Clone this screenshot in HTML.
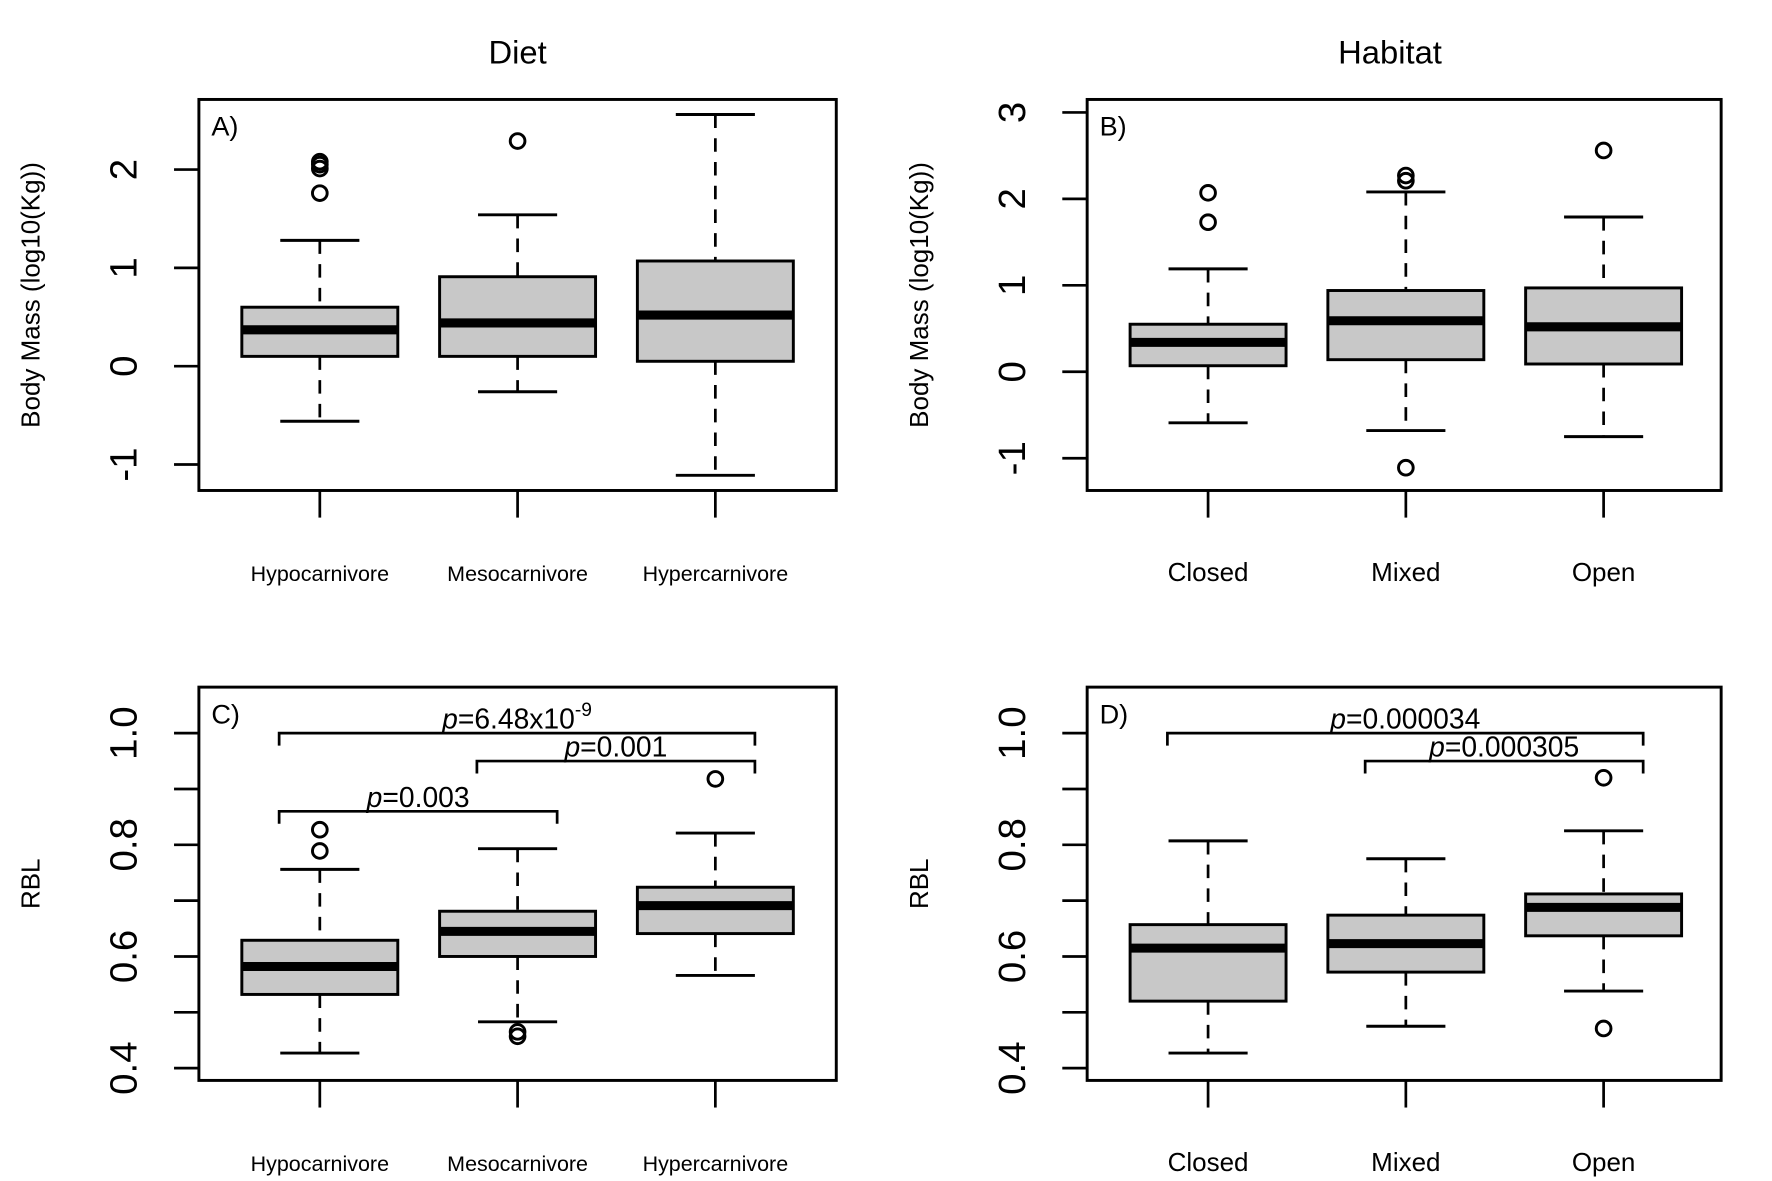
<!DOCTYPE html>
<html><head><meta charset="utf-8"><style>
html,body{margin:0;padding:0;background:#fff;}
svg{display:block;font-family:"Liberation Sans",Arial,sans-serif;}
</style></head><body>
<svg id="chart" width="1772" height="1181" viewBox="0 0 1568 1045" preserveAspectRatio="none" xmlns="http://www.w3.org/2000/svg">
<rect x="0" y="0" width="1568" height="1045" fill="#fff"/>
</svg>
<script>
const dietCats = ["Hypocarnivore","Mesocarnivore","Hypercarnivore"];
const habitatCats = ["Closed","Mixed","Open"];
const massTicks = [-1,0,1,2];
const massTicksB = [-1,0,1,2,3];
const rblTicks = [0.4,0.5,0.6,0.7,0.8,0.9,1.0];
const rblTickLabels = ["0.4","","0.6","","0.8","","1.0"];
// Panel A: body mass by diet
const aLower = [-0.56,-0.26,-1.11];
const aQ1 = [0.10,0.10,0.05];
const aMed = [0.37,0.44,0.52];
const aQ3 = [0.60,0.91,1.07];
const aUpper = [1.28,1.54,2.56];
const aOut = [[1.76,2.01,2.05,2.08],[2.29],[]];
// Panel B: body mass by habitat
const bLower = [-0.59,-0.68,-0.75];
const bQ1 = [0.07,0.14,0.09];
const bMed = [0.34,0.59,0.52];
const bQ3 = [0.55,0.94,0.97];
const bUpper = [1.19,2.08,1.79];
const bOut = [[1.73,2.07],[-1.11,2.21,2.27],[2.56]];
// Panel C: RBL by diet
const cLower = [0.427,0.483,0.566];
const cQ1 = [0.532,0.600,0.641];
const cMed = [0.582,0.645,0.691];
const cQ3 = [0.629,0.681,0.724];
const cUpper = [0.756,0.793,0.821];
const cOut = [[0.789,0.827],[0.457,0.465],[0.918]];
// Panel D: RBL by habitat
const dLower = [0.427,0.475,0.538];
const dQ1 = [0.520,0.572,0.637];
const dMed = [0.615,0.623,0.688];
const dQ3 = [0.657,0.674,0.712];
const dUpper = [0.807,0.775,0.825];
const dOut = [[],[],[0.471,0.920]];
const cSigFrom = [0,1,0];
const cSigTo = [2,2,1];
const cSigVal = [1.0,0.95,0.86];
const cSigText = ["6.48x10","0.001","0.003"];
const cSigSup = ["-9","",""];
const dSigFrom = [0,1];
const dSigTo = [2,2];
const dSigVal = [1.0,0.95];
const dSigText = ["0.000034","0.000305"];
const dSigSup = ["",""];

const NS="http://www.w3.org/2000/svg";
const svg=document.getElementById('chart');
function mk(tag,attrs,parent){const e=document.createElementNS(NS,tag);for(const k in attrs)e.setAttribute(k,attrs[k]);(parent||svg).appendChild(e);return e;}

function panel(p){
  const g=mk('g',{});
  
  
  const yS=v=>p.y1-(v-p.ymin)/(p.ymax-p.ymin)*(p.y1-p.y0);
  const xS=i=>p.x0+107+i*175;
  const fr=mk('rect',{x:p.x0,y:p.y0,width:p.x1-p.x0,height:p.y1-p.y0,fill:'none',stroke:'#000','stroke-width':2.6},g);
  
  
  p.ticks.forEach((t,i)=>{
    const y=yS(t);
    const tk=mk('line',{x1:p.x0-22,x2:p.x0,y1:y,y2:y,stroke:'#000','stroke-width':2.4},g);
    
    
    const lab=p.tickLabels?p.tickLabels[i]:String(t);
    if(lab){
      const tx=mk('text',{x:0,y:0,'font-size':34,'text-anchor':'middle',transform:`translate(${p.x0-55},${y}) rotate(-90)`},g);
      tx.textContent=lab;
      
      
    }
  });
  const yt=mk('text',{x:0,y:0,'font-size':23,'text-anchor':'middle',transform:`translate(${p.x0-141},${(p.y0+p.y1)/2}) rotate(-90)`},g);
  yt.textContent=p.ytitle;
  
  
  const pl=mk('text',{x:p.x0+11,y:p.y0+32,'font-size':24},g);
  pl.textContent=p.letter;
  
  
  p.cats.forEach((c,i)=>{
    const x=xS(i);
    const bg=mk('g',{},g);
    
    
    mk('line',{x1:x,x2:x,y1:yS(p.up[i]),y2:yS(p.q3[i]),stroke:'#000','stroke-width':2.4,'stroke-dasharray':'12,9'},bg);
    mk('line',{x1:x,x2:x,y1:yS(p.q1[i]),y2:yS(p.lo[i]),stroke:'#000','stroke-width':2.4,'stroke-dasharray':'12,9'},bg);
    mk('line',{x1:x-35,x2:x+35,y1:yS(p.up[i]),y2:yS(p.up[i]),stroke:'#000','stroke-width':2.6},bg);
    mk('line',{x1:x-35,x2:x+35,y1:yS(p.lo[i]),y2:yS(p.lo[i]),stroke:'#000','stroke-width':2.6},bg);
    mk('rect',{x:x-69,y:yS(p.q3[i]),width:138,height:yS(p.q1[i])-yS(p.q3[i]),fill:'#c8c8c8',stroke:'#000','stroke-width':2.6},bg);
    mk('line',{x1:x-69,x2:x+69,y1:yS(p.med[i]),y2:yS(p.med[i]),stroke:'#000','stroke-width':8},bg);
    p.out[i].forEach(v=>{
      const o=mk('circle',{cx:x,cy:yS(v),r:6.5,fill:'none',stroke:'#000','stroke-width':2.6},bg);
      
      
    });
    const xt=mk('line',{x1:x,x2:x,y1:p.y1,y2:p.y1+24,stroke:'#000','stroke-width':2.4},g);
    
    
    const xl=mk('text',{x:x,y:p.y1+80,'font-size':p.xFont,'text-anchor':'middle'},g);
    xl.textContent=c;
    
    
  });
  if(p.sigFrom){
    p.sigFrom.forEach((f,k)=>{
      const xa=xS(p.sigFrom[k])-36, xb=xS(p.sigTo[k])+35, y=yS(p.sigVal[k]);
      const br=mk('path',{d:`M${xa},${y+11} L${xa},${y} L${xb},${y} L${xb},${y+11}`,fill:'none',stroke:'#000','stroke-width':2.4},g);
      
      
      const tx=mk('text',{x:(xa+xb)/2,y:y-4,'font-size':25,'text-anchor':'middle'},g);
      
      
      const ts=mk('tspan',{'font-style':'italic'},tx);ts.textContent='p';
      const t2=mk('tspan',{},tx);t2.textContent='='+p.sigText[k];
      if(p.sigSup[k]){const t3=mk('tspan',{dy:-11,'font-size':17},tx);t3.textContent=p.sigSup[k];}
    });
  }
}

panel({name:'panel-a-mass-diet',x0:176,x1:740,y0:88,y1:434,ymin:-1.264,ymax:2.713,ticks:massTicks,ytitle:'Body Mass (log10(Kg))',letter:'A)',cats:dietCats,xFont:19,lo:aLower,q1:aQ1,med:aMed,q3:aQ3,up:aUpper,out:aOut});
panel({name:'panel-b-mass-habitat',x0:962,x1:1523,y0:88,y1:434,ymin:-1.373,ymax:3.15,ticks:massTicksB,ytitle:'Body Mass (log10(Kg))',letter:'B)',cats:habitatCats,xFont:23,lo:bLower,q1:bQ1,med:bMed,q3:bQ3,up:bUpper,out:bOut});
panel({name:'panel-c-rbl-diet',x0:176,x1:740,y0:608,y1:956,ymin:0.378,ymax:1.0824,ticks:rblTicks,tickLabels:rblTickLabels,ytitle:'RBL',letter:'C)',cats:dietCats,xFont:19,lo:cLower,q1:cQ1,med:cMed,q3:cQ3,up:cUpper,out:cOut,sigFrom:cSigFrom,sigTo:cSigTo,sigVal:cSigVal,sigText:cSigText,sigSup:cSigSup});
panel({name:'panel-d-rbl-habitat',x0:962,x1:1523,y0:608,y1:956,ymin:0.378,ymax:1.0824,ticks:rblTicks,tickLabels:rblTickLabels,ytitle:'RBL',letter:'D)',cats:habitatCats,xFont:23,lo:dLower,q1:dQ1,med:dMed,q3:dQ3,up:dUpper,out:dOut,sigFrom:dSigFrom,sigTo:dSigTo,sigVal:dSigVal,sigText:dSigText,sigSup:dSigSup});

const t1=mk('text',{x:458,y:56,'font-size':29,'text-anchor':'middle'});
t1.textContent='Diet';


const t2=mk('text',{x:1230,y:56,'font-size':29,'text-anchor':'middle'});
t2.textContent='Habitat';


</script>
</body></html>
